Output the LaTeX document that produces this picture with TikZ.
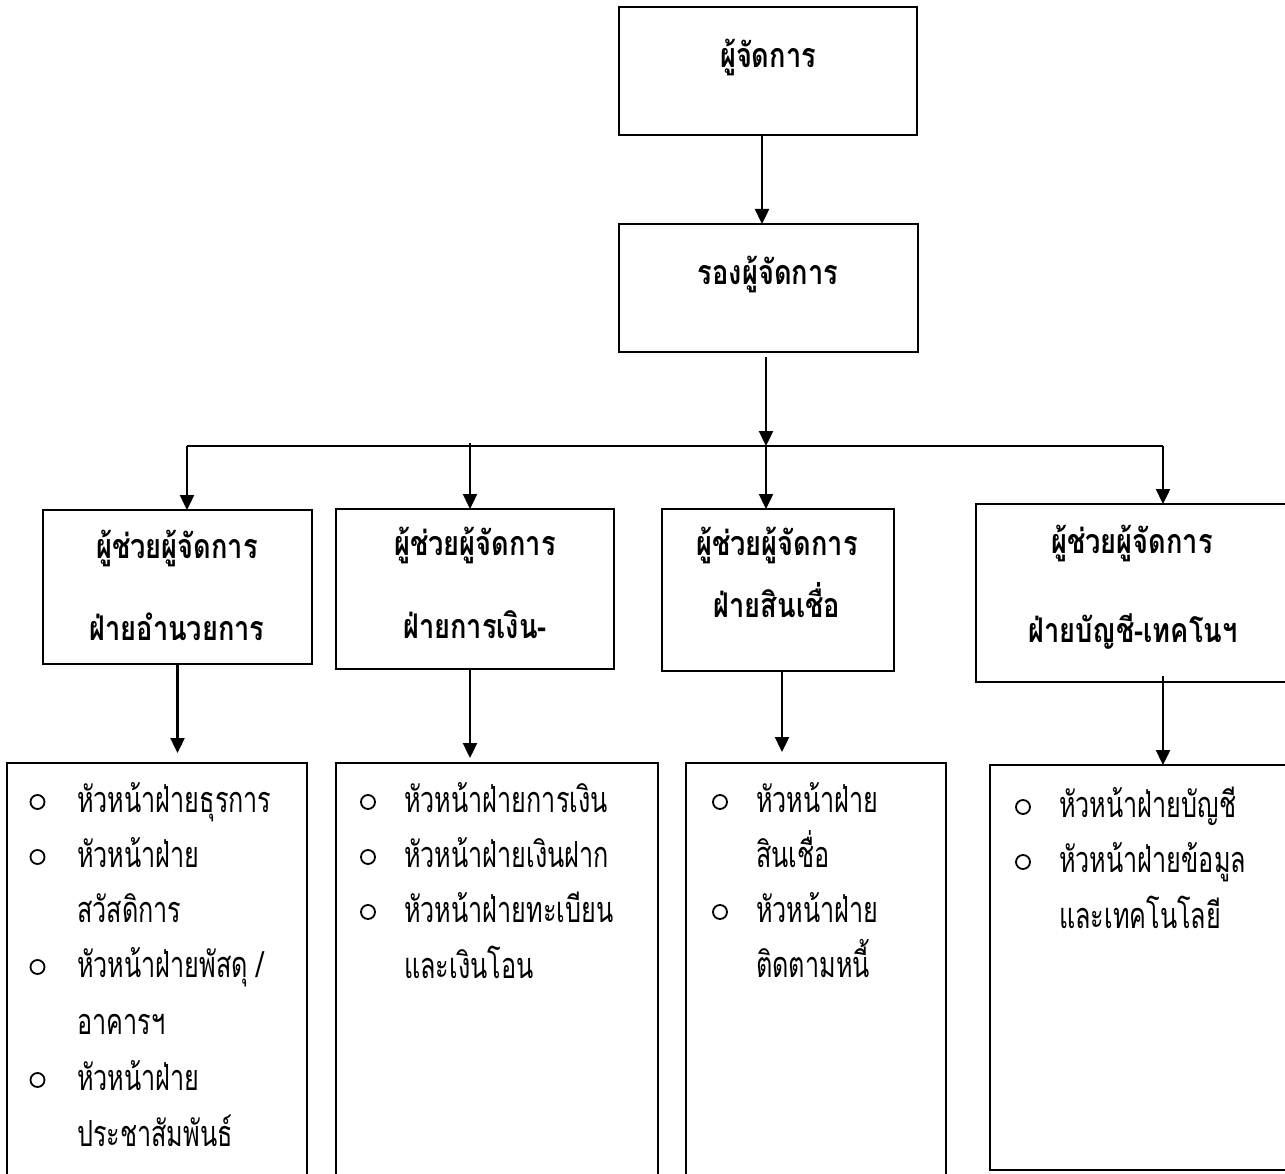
\documentclass[tikz,border=0pt]{standalone}
\usepackage{fontspec}
\newfontfamily\thaihead[Script=Thai,FakeStretch=0.8]{Loma}
\newfontfamily\thaicond[Script=Thai,FakeStretch=0.7]{Loma}
\usetikzlibrary{arrows.meta,calc}

\begin{document}
\begin{tikzpicture}[x=1pt,y=-1pt,
  box/.style={draw,line width=2.6pt,inner sep=0pt,outer sep=0pt},
  conn/.style={line width=2.4pt,-{Triangle[length=15pt,width=14pt]}},
  bus/.style={line width=2.4pt},
  head/.style={font=\thaihead\bfseries\fontsize{34}{36}\selectfont,anchor=base,inner sep=0pt},
  item/.style={font=\thaicond\fontsize{36}{38}\selectfont,anchor=base west,inner sep=0pt},
  dot/.style={circle,draw,line width=1.8pt,minimum size=14pt,inner sep=0pt},
]
\useasboundingbox (0,0) rectangle (1285,1174);

% management boxes
\node[box,minimum width=298pt,minimum height=128pt] (m) at (768,71) {};
\node[box,minimum width=299pt,minimum height=128pt] (v) at (768.5,288) {};
\node[head] (mt) at (768,68) {ผู้จัดการ};
\node[head] (vt) at (768,285) {รองผู้จัดการ};

% assistant manager boxes
\node[box,minimum width=269pt,minimum height=154pt] (a) at (177.5,587) {};
\node[box,minimum width=278pt,minimum height=160pt] (b) at (475,589) {};
\node[box,minimum width=232pt,minimum height=162pt] (c) at (778,590) {};
\node[box,minimum width=314pt,minimum height=178pt] (d) at (1133,593) {};

\node[head] (a1) at (177,558) {ผู้ช่วยผู้จัดการ};
\node[head] (a2) at (177,640) {ฝ่ายอำนวยการ};
\node[head] (b1) at (475,555) {ผู้ช่วยผู้จัดการ};
\node[head] (b2) at (475,638) {ฝ่ายการเงิน-};
\node[head] (c1) at (777,555) {ผู้ช่วยผู้จัดการ};
\node[head] (c2) at (777,617) {ฝ่ายสินเชื่อ};
\node[head] (d1) at (1132,553) {ผู้ช่วยผู้จัดการ};
\node[head] (d2) at (1133,642) {ฝ่ายบัญชี-เทคโนฯ};

% section head boxes
\node[box,minimum width=300pt,minimum height=437pt] (la) at (157,981.5) {};
\node[box,minimum width=322pt,minimum height=437pt] (lb) at (497,981.5) {};
\node[box,minimum width=260pt,minimum height=437pt] (lc) at (816,981.5) {};
\node[box,minimum width=300pt,minimum height=405pt] (ld) at (1140,967.5) {};

% list of section heads
\node[dot] (pa1) at (37.5,802) {};
\node[item] (ia1) at (77,812) {หัวหน้าฝ่ายธุรการ};
\node[dot] (pa2) at (37.5,857) {};
\node[item] (ia2) at (77,867) {หัวหน้าฝ่าย};
\node[item] (ia3) at (77,922) {สวัสดิการ};
\node[dot] (pa4) at (37.5,967) {};
\node[item] (ia4) at (77,977) {หัวหน้าฝ่ายพัสดุ /};
\node[item] (ia5) at (77,1034) {อาคารฯ};
\node[dot] (pa6) at (37.5,1080) {};
\node[item] (ia6) at (77,1090) {หัวหน้าฝ่าย};
\node[item] (ia7) at (77,1146) {ประชาสัมพันธ์};

\node[dot] (pb1) at (368,802) {};
\node[item] (ib1) at (404,812) {หัวหน้าฝ่ายการเงิน};
\node[dot] (pb2) at (368,857) {};
\node[item] (ib2) at (404,867) {หัวหน้าฝ่ายเงินฝาก};
\node[dot] (pb3) at (368,912) {};
\node[item] (ib3) at (404,922) {หัวหน้าฝ่ายทะเบียน};
\node[item] (ib4) at (404,978) {และเงินโอน};

\node[dot] (pc1) at (720,802) {};
\node[item] (ic1) at (756,812) {หัวหน้าฝ่าย};
\node[item] (ic2) at (756,867) {สินเชื่อ};
\node[dot] (pc3) at (720,912) {};
\node[item] (ic3) at (756,922) {หัวหน้าฝ่าย};
\node[item] (ic4) at (756,977) {ติดตามหนี้};

\node[dot] (pd1) at (1023,807) {};
\node[item] (id1) at (1059,817) {หัวหน้าฝ่ายบัญชี};
\node[dot] (pd2) at (1023,862) {};
\node[item] (id2) at (1059,872) {หัวหน้าฝ่ายข้อมูล};
\node[item] (id3) at (1059,928) {และเทคโนโลยี};

% connectors
\coordinate (ms) at ($(m.south)+(-6,0)$);
\draw[conn] (ms) -- (ms |- v.north);
\coordinate (j) at (766,446);
\coordinate (vs) at ($(v.south)+(-2.5,5)$);
\draw[conn] (vs) -- (j);
\coordinate (bl) at (187,446);
\coordinate (br) at (1163,446);
\coordinate (jb) at (470,443);
\draw[bus] (bl) -- (br);
\draw[conn] (bl) -- (bl |- a.north);
\draw[conn] (jb) -- (jb |- b.north);
\draw[conn] (j) -- (j |- c.north);
\draw[conn] (br) -- (br |- d.north);

\coordinate (as) at (a.south);
\draw[conn] (as) -- ($(as |- la.north)+(0,-10)$);
\coordinate (bs) at ($(b.south)+(-5,0)$);
\draw[conn] (bs) -- ($(bs |- lb.north)+(0,-5)$);
\coordinate (cs) at ($(c.south)+(4,0)$);
\draw[conn] (cs) -- ($(cs |- lc.north)+(0,-11)$);
\coordinate (ds) at ($(d.south)+(30,-6)$);
\draw[conn] (ds) -- (ds |- ld.north);
\end{tikzpicture}
\end{document}
